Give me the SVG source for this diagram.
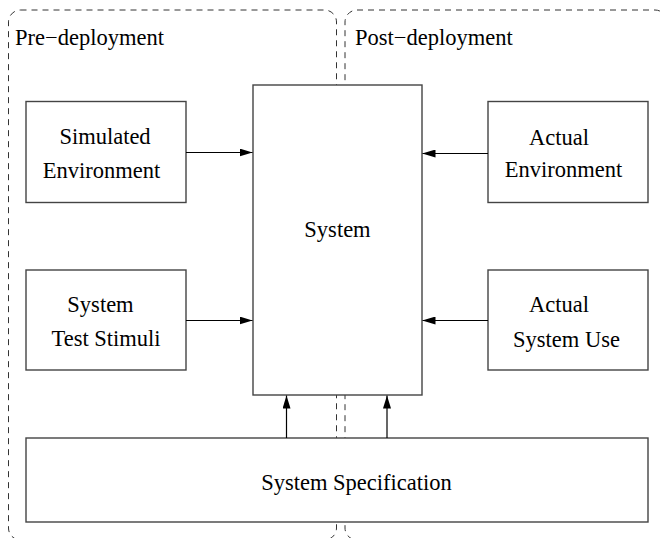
<svg xmlns="http://www.w3.org/2000/svg" width="662" height="538" viewBox="0 0 662 538">
<defs>
<marker id="arr" markerWidth="13" markerHeight="8" refX="13" refY="4" orient="auto" markerUnits="userSpaceOnUse">
<path d="M0,0 L13,4 L0,8 Z" fill="#000"/>
</marker>
<style>
.region{fill:none;stroke:#333;stroke-width:1;stroke-dasharray:6,5}
.box{fill:#fff;stroke:#444;stroke-width:1.4}
.t{font-family:"Liberation Serif","Times New Roman",serif;font-size:22.5px;fill:#000}
.c{text-anchor:middle}
.conn{stroke:#000;stroke-width:1.2;fill:none;marker-end:url(#arr)}
</style>
</defs>
<rect width="662" height="538" fill="#fff"/>
<g id="pre-deployment">
<rect class="region" x="8.5" y="10" width="328" height="530" rx="12"/>
<text class="t" x="15" y="45">Pre−deployment</text>
</g>
<g id="post-deployment">
<rect class="region" x="345" y="10" width="322" height="530" rx="12"/>
<text class="t" x="355" y="45">Post−deployment</text>
</g>
<g id="system">
<rect class="box" x="253" y="85" width="169" height="310"/>
<text class="t c" x="337.5" y="237">System</text>
</g>
<g id="simulated-environment">
<rect class="box" x="26" y="101.5" width="160" height="101"/>
<text class="t c" x="105" y="144">Simulated</text>
<text class="t c" x="101.5" y="178">Environment</text>
</g>
<g id="system-test-stimuli">
<rect class="box" x="26" y="270" width="160" height="100"/>
<text class="t c" x="100.5" y="312">System</text>
<text class="t c" x="106" y="346">Test Stimuli</text>
</g>
<g id="actual-environment">
<rect class="box" x="488" y="101.5" width="160" height="101"/>
<text class="t c" x="559" y="145">Actual</text>
<text class="t c" x="563.5" y="177">Environment</text>
</g>
<g id="actual-system-use">
<rect class="box" x="488" y="270" width="160" height="100"/>
<text class="t c" x="559" y="312">Actual</text>
<text class="t c" x="566.5" y="346.5">System Use</text>
</g>
<g id="system-specification">
<rect class="box" x="26" y="438" width="622" height="84"/>
<text class="t c" x="356.5" y="490">System Specification</text>
</g>
<g id="connectors">
<line class="conn" x1="186" y1="152.5" x2="252.5" y2="152.5"/>
<line class="conn" x1="186" y1="320.5" x2="252.5" y2="320.5"/>
<line class="conn" x1="488" y1="153.5" x2="422.5" y2="153.5"/>
<line class="conn" x1="488" y1="320.5" x2="422.5" y2="320.5"/>
<line class="conn" x1="286.5" y1="438" x2="286.5" y2="395.5"/>
<line class="conn" x1="387" y1="438" x2="387" y2="395.5"/>
</g>
</svg>
